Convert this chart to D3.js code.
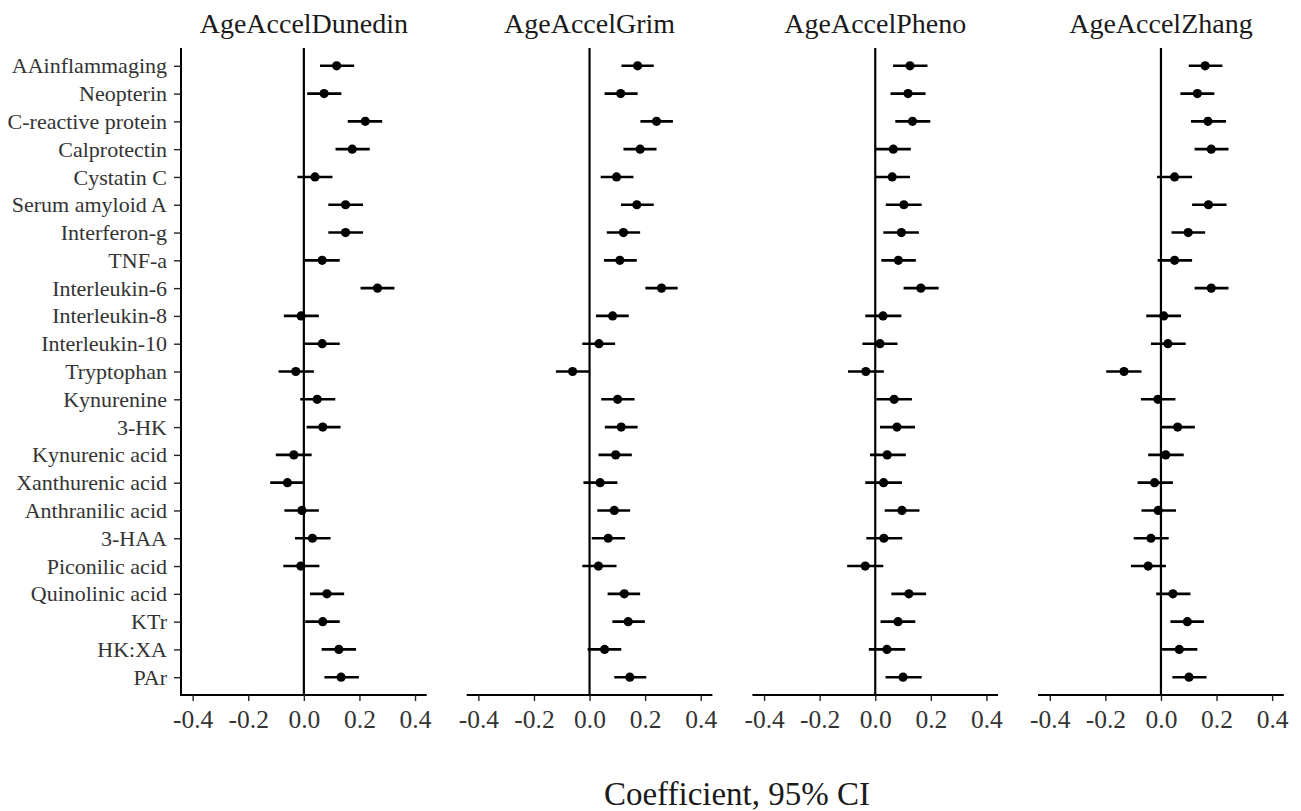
<!DOCTYPE html>
<html>
<head>
<meta charset="utf-8">
<script src="https://cdn.jsdelivr.net/npm/d3@7"></script>
<style>
  html, body { margin: 0; padding: 0; background: #fff; }
  svg { display: block; }
  text { font-family: "Liberation Serif", "Times New Roman", serif; fill: #1a1a1a; }
</style>
</head>
<body>
<svg id="chart" width="1301" height="811"></svg>
<script>
const categories = ["AAinflammaging","Neopterin","C-reactive protein","Calprotectin","Cystatin C","Serum amyloid A","Interferon-g","TNF-a","Interleukin-6","Interleukin-8","Interleukin-10","Tryptophan","Kynurenine","3-HK","Kynurenic acid","Xanthurenic acid","Anthranilic acid","3-HAA","Piconilic acid","Quinolinic acid","KTr","HK:XA","PAr"];
const panels = ["AgeAccelDunedin","AgeAccelGrim","AgeAccelPheno","AgeAccelZhang"];
const xTicks = [-0.4, -0.2, 0.0, 0.2, 0.4];

// AgeAccelDunedin
const dunedinEst = [0.118,0.073,0.221,0.174,0.040,0.150,0.150,0.066,0.265,-0.010,0.066,-0.029,0.048,0.068,-0.036,-0.059,-0.007,0.031,-0.011,0.083,0.068,0.126,0.134];
const dunedinLo  = [0.058,0.012,0.158,0.114,-0.023,0.088,0.088,0.004,0.204,-0.072,0.004,-0.091,-0.013,0.010,-0.101,-0.121,-0.070,-0.032,-0.074,0.022,0.005,0.064,0.074];
const dunedinHi  = [0.181,0.135,0.282,0.237,0.103,0.213,0.213,0.129,0.326,0.054,0.129,0.036,0.113,0.132,0.028,0.000,0.054,0.096,0.056,0.145,0.129,0.188,0.198];
// AgeAccelGrim
const grimEst = [0.173,0.112,0.241,0.182,0.097,0.170,0.122,0.109,0.259,0.083,0.034,-0.061,0.101,0.114,0.094,0.038,0.089,0.067,0.032,0.125,0.139,0.054,0.145];
const grimLo  = [0.115,0.054,0.183,0.122,0.040,0.113,0.062,0.052,0.201,0.023,-0.026,-0.121,0.042,0.055,0.032,-0.022,0.028,0.008,-0.026,0.065,0.082,-0.007,0.089];
const grimHi  = [0.231,0.173,0.300,0.241,0.158,0.231,0.182,0.170,0.317,0.141,0.092,-0.001,0.162,0.173,0.152,0.100,0.146,0.128,0.097,0.182,0.199,0.114,0.204];
// AgeAccelPheno
const phenoEst = [0.125,0.118,0.134,0.065,0.061,0.103,0.094,0.083,0.164,0.028,0.017,-0.034,0.068,0.078,0.043,0.030,0.096,0.031,-0.036,0.121,0.082,0.042,0.100];
const phenoLo  = [0.064,0.055,0.072,0.002,0.002,0.038,0.029,0.022,0.102,-0.036,-0.046,-0.098,0.004,0.017,-0.019,-0.036,0.034,-0.032,-0.101,0.058,0.019,-0.023,0.037];
const phenoHi  = [0.188,0.181,0.198,0.128,0.125,0.167,0.157,0.146,0.228,0.094,0.080,0.031,0.132,0.143,0.110,0.096,0.159,0.097,0.029,0.183,0.144,0.108,0.167];
// AgeAccelZhang
const zhangEst = [0.159,0.131,0.169,0.181,0.049,0.171,0.098,0.049,0.181,0.010,0.025,-0.133,-0.011,0.060,0.017,-0.023,-0.010,-0.036,-0.046,0.043,0.095,0.066,0.101];
const zhangLo  = [0.100,0.070,0.108,0.121,-0.014,0.112,0.038,-0.012,0.121,-0.053,-0.036,-0.197,-0.072,0.001,-0.046,-0.084,-0.070,-0.098,-0.108,-0.017,0.034,0.004,0.041];
const zhangHi  = [0.221,0.192,0.234,0.243,0.112,0.236,0.159,0.112,0.243,0.072,0.089,-0.070,0.052,0.122,0.082,0.043,0.054,0.028,0.018,0.106,0.155,0.131,0.164];

const estimates = [dunedinEst, grimEst, phenoEst, zhangEst];
const lows = [dunedinLo, grimLo, phenoLo, zhangLo];
const highs = [dunedinHi, grimHi, phenoHi, zhangHi];

const svg = d3.select("#chart");
const plotTop = 48, plotBottom = 695;
const firstLeft = 181, panelW = 245.7, panelStep = 285.7;

const y = d3.scalePoint().domain(categories).range([plotTop, plotBottom]).padding(0.64);

panels.forEach((name, p) => {
  const left = firstLeft + p * panelStep;
  const g = svg.append("g").attr("transform", `translate(${left},0)`);
  const x = d3.scaleLinear().domain([-0.442, 0.442]).range([0, panelW]);

  // title
  g.append("text").attr("x", panelW / 2).attr("y", 33)
    .attr("text-anchor", "middle").style("font-size", "28px").text(name);

  // x axis
  const xAxis = g.append("g").attr("transform", `translate(0,${plotBottom})`)
    .call(d3.axisBottom(x).tickValues(xTicks).tickSize(6).tickPadding(5)
      .tickFormat(d => d3.format(".1f")(d).replace("\u2212", "-")));
  xAxis.select(".domain").attr("stroke", "#000").attr("stroke-width", 2)
    .attr("d", `M0,0H${panelW}`);
  xAxis.selectAll(".tick line").attr("stroke", "#222").attr("stroke-width", 1.4);
  xAxis.selectAll(".tick text").style("font-size", "25.5px").style("fill", "#333")
    .style("font-family", '"Liberation Serif", serif').attr("dy", "0.85em");

  // y axis only on first panel
  if (p === 0) {
    const yAxis = g.append("g").call(d3.axisLeft(y).tickSize(7).tickPadding(7));
    yAxis.select(".domain").attr("stroke", "#000").attr("stroke-width", 2)
      .attr("d", `M0,${plotTop}V${plotBottom + 1}`);
    yAxis.selectAll(".tick line").attr("stroke", "#222").attr("stroke-width", 1.4);
    yAxis.selectAll(".tick text").style("font-size", "22px").style("fill", "#333")
      .style("font-family", '"Liberation Serif", serif');
  }

  // zero line
  g.append("line").attr("x1", x(0)).attr("x2", x(0))
    .attr("y1", plotTop).attr("y2", plotBottom)
    .attr("stroke", "#000").attr("stroke-width", 2.2);

  const rows = categories.map((c, i) => ({ c, est: estimates[p][i], lo: lows[p][i], hi: highs[p][i] }));

  g.selectAll(".ci").data(rows).enter().append("line")
    .attr("x1", d => x(d.lo)).attr("x2", d => x(d.hi))
    .attr("y1", d => y(d.c)).attr("y2", d => y(d.c))
    .attr("stroke", "#000").attr("stroke-width", 2.6);

  g.selectAll(".pt").data(rows).enter().append("circle")
    .attr("cx", d => x(d.est)).attr("cy", d => y(d.c)).attr("r", 4.6)
    .attr("fill", "#000");
});

svg.append("text").attr("x", 737).attr("y", 805)
  .attr("text-anchor", "middle").style("font-size", "33px").text("Coefficient, 95% CI");
</script>
</body>
</html>
